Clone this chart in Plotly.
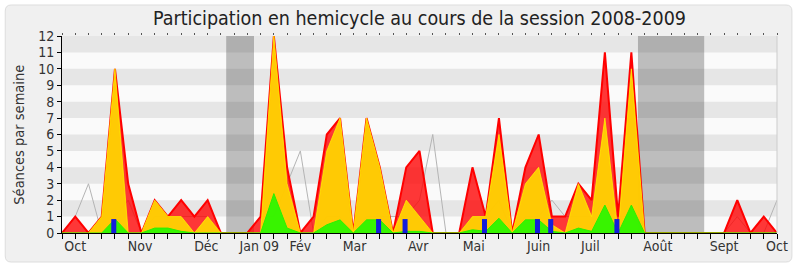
import plotly.graph_objects as go

# ---- data (weeks 0..54 of the 2008-2009 session) ----
semaines = list(range(55))
presences = [0, 1, 0, 1, 10, 3, 0, 2, 1, 2, 1, 2, 0, 0, 0, 1, 12, 4, 0, 1,
             6, 7, 0, 7, 4, 0, 4, 5, 0, 0, 0, 4, 1, 7, 0, 4, 6, 1, 1, 3,
             2, 11, 1, 11, 0, 0, 0, 0, 0, 0, 0, 2, 0, 1, 0]
participations = [0, 0, 0, 1, 10, 0, 0, 2, 1, 1, 0, 1, 0, 0, 0, 0, 12, 3, 0, 0,
                  5, 7, 0, 7, 4, 0, 2, 1, 0, 0, 0, 1, 1, 6, 0, 3, 4, 0.5, 0, 3,
                  1, 7, 0, 10, 0, 0, 0, 0, 0, 0, 0, 0, 0, 0, 0]
interventions = [0, 0, 0, 0, 0.85, 0, 0, 0.3, 0.3, 0.1, 0, 0, 0, 0, 0, 0, 2.4, 0.3, 0, 0,
                 0.5, 0.8, 0, 0.8, 0.8, 0, 0.1, 0.1, 0, 0, 0, 0.2, 0.1, 0.9, 0, 0.8, 0.8, 0.1, 0, 0.3,
                 0.1, 1.7, 0, 1.7, 0, 0, 0, 0, 0, 0, 0, 0, 0, 0, 0]
mediane = [0, 1, 3, 0, 1, 2, 0, 1, 1, 1, 1, 1, 0, 0, 0, 1, 1, 3, 5, 0,
           1, 1, 0, 1, 1, 1, 1, 2, 6, 0, 0, 1, 1, 2, 0, 1, 1, 2, 1, 1,
           1, 2, 1, 1, 0, 0, 0, 0, 0, 0, 0, 1, 0, 0, 2]
questions_semaines = [4, 24, 26, 32, 36, 37, 42]
questions_valeurs = [0.85, 0.85, 0.85, 0.85, 0.85, 0.85, 0.85]
vacances = [(12.4, 14.5), (43.5, 48.5)]
mois_pos = [1, 5.9, 10.9, 14.9, 18, 22.1, 26.9, 31.1, 36, 39.9, 45, 50, 54]
mois_lab = ["Oct", "Nov", "Déc", "Jan 09", "Fév", "Mar", "Avr", "Mai", "Juin",
            "Juil", "Août", "Sept", "Oct"]

FONT = "DejaVu Sans Condensed, DejaVu Sans, sans-serif"

fig = go.Figure()
fig.add_trace(go.Scatter(x=semaines, y=mediane, mode="lines",
                         line=dict(color="rgb(180,180,180)", width=1), hoverinfo="skip"))
fig.add_trace(go.Scatter(x=semaines, y=presences, mode="lines", fill="tozeroy",
                         fillcolor="rgba(255,0,0,0.78)",
                         line=dict(color="rgb(255,0,0)", width=2)))
fig.add_trace(go.Scatter(x=semaines, y=participations, mode="lines", fill="tozeroy",
                         fillcolor="rgba(255,215,0,0.92)",
                         line=dict(color="rgba(255,240,0,0.8)", width=1)))
fig.add_trace(go.Scatter(x=semaines, y=interventions, mode="lines", fill="tozeroy",
                         fillcolor="rgba(45,245,0,0.95)",
                         line=dict(color="rgb(45,240,0)", width=1)))
# bars on the overlaying x2 axis so they are drawn above the filled areas
fig.add_trace(go.Bar(x=questions_semaines, y=questions_valeurs, width=0.38, offset=-0.28,
                     xaxis="x2", yaxis="y",
                     marker=dict(color="rgb(20,30,220)", line=dict(width=0))))

# background stripes, holidays, frame
shapes = []
L, R, T, B = 62, 780, 36, 233
W, H = R - L, B - T
def px(xp):
    return (xp - L) / W
def py(yp):
    return (B - yp) / H
x0, x1, y0, y1, r = px(5), px(795), py(262), py(5), 6
rx, ry = r / W, r / H
path = (f"M {x0+rx},{y1} L {x1-rx},{y1} Q {x1},{y1} {x1},{y1-ry} L {x1},{y0+ry} "
        f"Q {x1},{y0} {x1-rx},{y0} L {x0+rx},{y0} Q {x0},{y0} {x0},{y0+ry} "
        f"L {x0},{y1-ry} Q {x0},{y1} {x0+rx},{y1} Z")
shapes.append(dict(type="path", path=path, xref="paper", yref="paper",
                   fillcolor="#f0f0f0", line=dict(color="#dddddd", width=1), layer="below"))
shapes.append(dict(type="rect", xref="paper", yref="y", x0=0, x1=1, y0=0, y1=12,
                   fillcolor="#fafafa", line=dict(width=0), layer="below"))
for k in range(1, 12, 2):
    shapes.append(dict(type="rect", xref="paper", yref="y", x0=0, x1=1, y0=k, y1=k + 1,
                       fillcolor="#e6e6e6", line=dict(width=0), layer="below"))
for a, b in vacances:
    shapes.append(dict(type="rect", xref="x", yref="y", x0=a, x1=b, y0=0, y1=12,
                       fillcolor="rgba(50,50,50,0.3)", line=dict(width=0), layer="below"))
shapes.append(dict(type="line", xref="paper", yref="paper", x0=1, x1=1, y0=0, y1=1,
                   line=dict(color="#cccccc", width=1)))

fig.update_layout(
    width=800, height=267,
    margin=dict(l=L, r=800 - R, t=T, b=267 - B),
    paper_bgcolor="white", plot_bgcolor="rgba(0,0,0,0)",
    showlegend=False, barmode="overlay",
    shapes=shapes,
    font=dict(family=FONT, size=14, color="#333333"),
    title=dict(text="Participation en hemicycle au cours de la session 2008-2009",
               x=0.5, xref="paper", y=1 - 18 / 267, yref="container",
               xanchor="center", yanchor="middle",
               font=dict(family=FONT, size=19.5, color="#222222")),
    annotations=[dict(text="Séances par semaine", textangle=-90, showarrow=False,
                      xref="paper", yref="paper", x=px(18), y=0.5,
                      xanchor="center", yanchor="middle",
                      font=dict(family=FONT, size=14.5, color="#333333"))],
    xaxis=dict(range=[0, 54], showgrid=False, zeroline=False,
               showline=True, linecolor="black", linewidth=1,
               tickmode="array", tickvals=mois_pos, ticktext=mois_lab, ticks="",
               tickfont=dict(size=14, color="#333333"),
               minor=dict(dtick=1, tick0=0, ticks="outside", ticklen=5,
                          tickcolor="black", showgrid=False)),
    xaxis2=dict(range=[0, 54], overlaying="x", side="top", showgrid=False,
                zeroline=False, showline=False, showticklabels=False,
                ticks="outside", ticklen=2, tickwidth=1, tickcolor="#555555", dtick=1, tick0=0),
    yaxis=dict(range=[0, 12], dtick=1, showgrid=False, zeroline=False,
               showline=True, linecolor="black", linewidth=1,
               ticks="outside", ticklen=4, tickcolor="black",
               tickfont=dict(size=14, color="#333333")),
)
fig.write_html("out.html")
